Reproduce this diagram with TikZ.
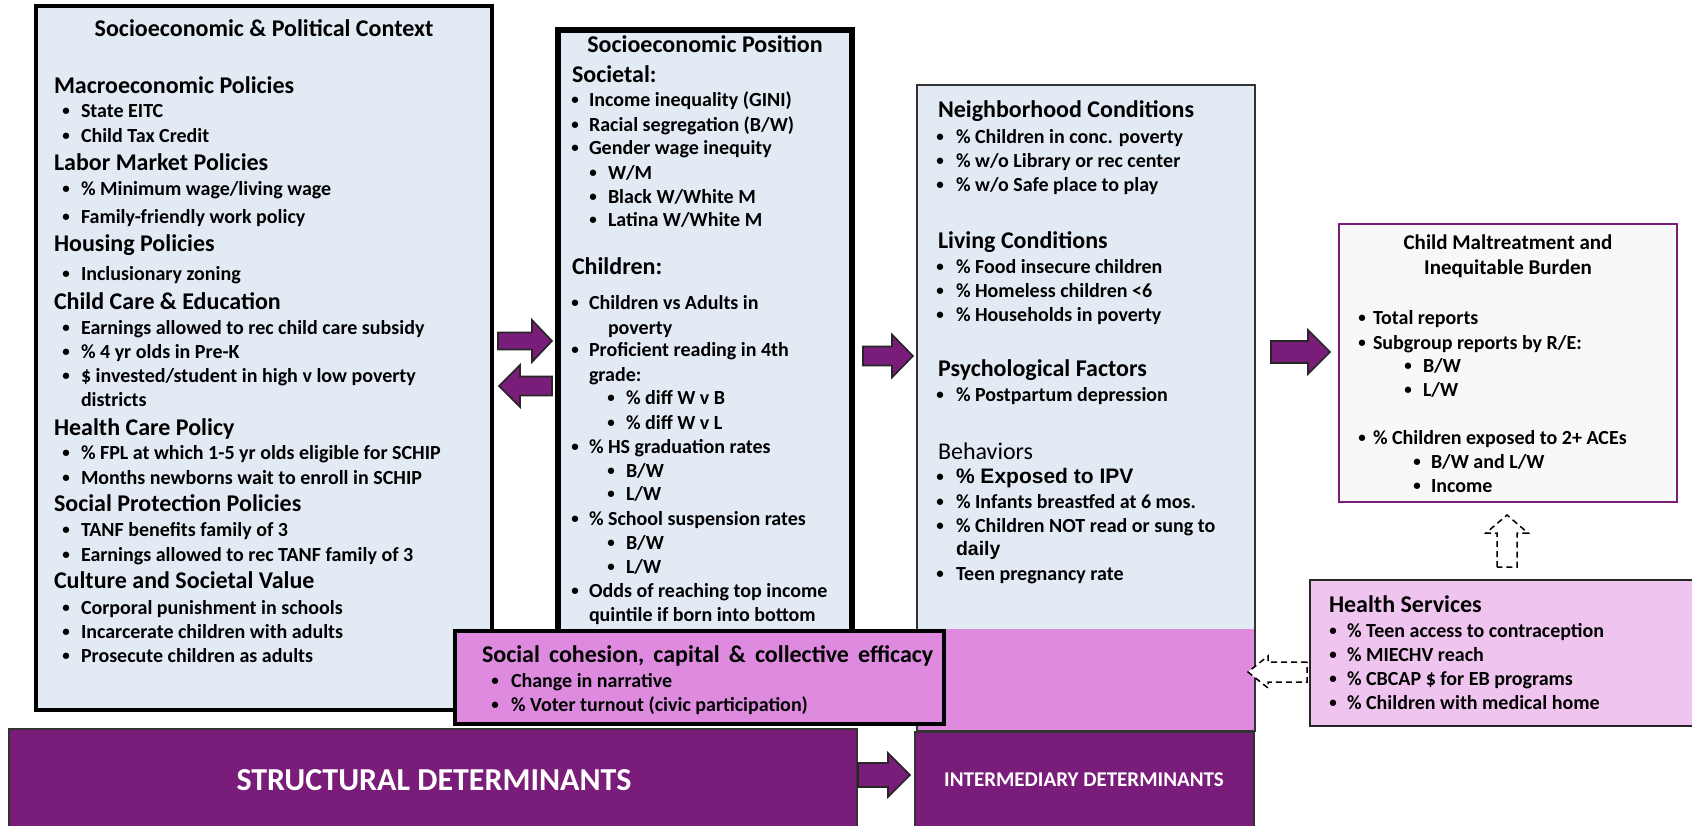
\documentclass[tikz,border=0pt]{standalone}
\usepackage{fontspec}
\setmainfont{Carlito}
\newfontfamily\arialf{Liberation Sans}

\definecolor{lblue}{HTML}{E2EAF4}
\definecolor{dpurple}{HTML}{7A1C7A}
\definecolor{spink}{HTML}{DE8ADF}
\definecolor{hpink}{HTML}{EFC5EF}
\definecolor{offw}{HTML}{F8F8F8}

\newcounter{lc}
\newcommand\smbul{{\fontsize{15}{15}\selectfont\raisebox{1.5pt}{\textbullet}}}
\newcommand\TXT[4]{\stepcounter{lc}\node[#1] (t\arabic{lc}) at (#2,#3) {#4};}
\newcommand\BUL[5]{\stepcounter{lc}\node[#1,anchor=center] (u\arabic{lc}) at (#2,#4) {\smbul};\node[#1] (t\arabic{lc}) at (#3,#4) {#5};}
\newcommand\fatH[6]{\draw[fatarrow] ({#1},{#3-#4}) -- ({#2-(#6)},{#3-#4}) -- ({#2-(#6)},{#3-#5}) -- ({#2},{#3}) -- ({#2-(#6)},{#3+#5}) -- ({#2-(#6)},{#3+#4}) -- ({#1},{#3+#4}) -- cycle;}

\tikzset{
  ti/.style={font=\bfseries\fontsize{24}{28}\selectfont, inner sep=0pt, outer sep=0pt, text height=15pt, text depth=0pt},
  tim/.style={ti, font=\bfseries\fontsize{21}{25}\selectfont, text height=13.5pt},
  hd/.style={font=\bfseries\fontsize{24}{28}\selectfont, anchor=west, inner sep=0pt, outer sep=0pt, text height=15.4pt, text depth=0pt},
  hdr/.style={hd, font=\fontsize{24}{28}\selectfont},
  it/.style={font=\bfseries\fontsize{20}{24}\selectfont, anchor=west, inner sep=0pt, outer sep=0pt, text height=12.8pt, text depth=0pt},
  ita/.style={it, font=\arialf\bfseries\fontsize{19.5}{24}\selectfont},
  box/.style={anchor=north west, inner sep=0pt, outer sep=0pt},
  fatarrow/.style={fill=dpurple, draw=black!85, line width=1.6pt, line join=miter},
  dasharrow/.style={fill=white, draw=black, line width=1.5pt, dash pattern=on 6pt off 4pt},
  bigw/.style={font=\bfseries\fontsize{32}{38}\selectfont, text=white, inner sep=0pt},
  smw/.style={font=\bfseries\fontsize{21}{25}\selectfont, text=white, inner sep=0pt},
}

\begin{document}
\begin{tikzpicture}[x=1pt,y=-1pt]
\useasboundingbox (0,0) rectangle (1692,826);
\fill[white] (0,0) rectangle (1692,826);

% --- Box 1: Socioeconomic & Political Context
\node[box, draw=black, line width=4pt, fill=lblue, minimum width=456pt, minimum height=704pt] (b1) at (36,6) {};
% --- Box 2: Socioeconomic Position
\node[box, draw=black, line width=6pt, fill=lblue, minimum width=294pt, minimum height=620pt] (b2) at (558,30) {};
% --- Box 3: Intermediary conditions
\node[box, draw=black!80, line width=1.5pt, fill=lblue, minimum width=338pt, minimum height=646pt] (b3) at (917,85) {};
\fill[spink] (917.5,629) rectangle (1254.5,731);
\draw[black!80, line width=1.5pt] (b3.north west) rectangle (b3.south east);

% --- Social cohesion box
\node[box, draw=black, line width=4pt, fill=spink, minimum width=489pt, minimum height=93pt] (sc) at (455,631) {};

% --- Bottom bars
\node[box, draw=black!80, line width=2pt, fill=dpurple, minimum width=848pt, minimum height=110pt] (sd) at (9,729) {};
\node[box, draw=black!80, line width=2pt, fill=dpurple, minimum width=339pt, minimum height=110pt] (id) at (915,732) {};
\node[bigw] (sdt) at (434,780) {STRUCTURAL DETERMINANTS};
\node[smw] (idt) at (1084,780) {INTERMEDIARY DETERMINANTS};

% --- Child maltreatment box
\node[box, draw=dpurple, line width=2.5pt, fill=offw, minimum width=338pt, minimum height=278pt] (b4) at (1339,224) {};
% --- Health services box
\node[box, draw=black!85, line width=1.5pt, fill=hpink, minimum width=400pt, minimum height=146pt] (hs) at (1310,580) {};

% --- Fat arrows
\fatH{498}{552}{341}{8.5}{21}{20}
\fatH{552}{499}{386}{9.5}{21}{-21}
\fatH{863}{913}{356}{9.5}{21.5}{21}
\fatH{1271}{1330}{352}{11}{22}{22}
\fatH{858}{910}{775}{12}{22}{22}

% --- Dashed arrows
\draw[dasharrow] (1497,567) -- (1497,533) -- (1486,533) -- (1507,515) -- (1528,533) -- (1517,533) -- (1517,567) -- cycle;
\draw[dasharrow] (1307,662) -- (1268,662) -- (1268,656) -- (1248,672) -- (1268,688) -- (1268,682) -- (1307,682) -- cycle;

% --- Box 1 text
\TXT{ti}{264}{29}{Socioeconomic \& Political Context}
\TXT{hd}{54}{86}{Macroeconomic Policies}
\BUL{it}{66}{81}{111}{State EITC}
\BUL{it}{66}{81}{136}{Child Tax Credit}
\TXT{hd}{54}{163}{Labor Market Policies}
\BUL{it}{66}{81}{189}{\% Minimum wage/living wage}
\BUL{it}{66}{81}{217}{Family-friendly work policy}
\TXT{hd}{54}{244}{Housing Policies}
\BUL{it}{66}{81}{274}{Inclusionary zoning}
\TXT{hd}{54}{302}{Child Care \& Education}
\BUL{it}{66}{81}{328}{Earnings allowed to rec child care subsidy}
\BUL{it}{66}{81}{352}{\% 4 yr olds in Pre-K}
\BUL{it}{66}{81}{376}{\$ invested/student in high v low poverty}
\TXT{it}{81}{400}{districts}
\TXT{hd}{54}{428}{Health Care Policy}
\BUL{it}{66}{81}{453}{\% FPL at which 1-5 yr olds eligible for SCHIP}
\BUL{it}{66}{81}{478}{Months newborns wait to enroll in SCHIP}
\TXT{hd}{54}{504}{Social Protection Policies}
\BUL{it}{66}{81}{530}{TANF benefits family of 3}
\BUL{it}{66}{81}{555}{Earnings allowed to rec TANF family of 3}
\TXT{hd}{54}{581}{Culture and Societal Value}
\BUL{it}{66}{81}{608}{Corporal punishment in schools}
\BUL{it}{66}{81}{632}{Incarcerate children with adults}
\BUL{it}{66}{81}{656}{Prosecute children as adults}

% --- Box 2 text
\TXT{ti}{705}{45}{Socioeconomic Position}
\TXT{hd}{572}{75}{Societal:}
\BUL{it}{575}{589}{100}{Income inequality (GINI)}
\BUL{it}{575}{589}{125}{Racial segregation (B/W)}
\BUL{it}{575}{589}{148}{Gender wage inequity}
\BUL{it}{593}{608}{173}{W/M}
\BUL{it}{593}{608}{197}{Black W/White M}
\BUL{it}{593}{608}{220}{Latina W/White M}
\TXT{hd}{572}{267}{Children:}
\BUL{it}{575}{589}{303}{Children vs Adults in}
\TXT{it}{608}{328}{poverty}
\BUL{it}{575}{589}{350}{Proficient reading in 4th}
\TXT{it}{589}{375}{grade:}
\BUL{it}{611}{626}{398}{\% diff W v B}
\BUL{it}{611}{626}{423}{\% diff W v L}
\BUL{it}{575}{589}{447}{\% HS graduation rates}
\BUL{it}{611}{626}{471}{B/W}
\BUL{it}{611}{626}{494}{L/W}
\BUL{it}{575}{589}{519}{\% School suspension rates}
\BUL{it}{611}{626}{543}{B/W}
\BUL{it}{611}{626}{567}{L/W}
\BUL{it}{575}{589}{591}{Odds of reaching top income}
\TXT{it}{589}{615}{quintile if born into bottom}

% --- Social cohesion text
\TXT{hd}{482}{655}{\spaceskip=0.38em\relax Social cohesion, capital \& collective efficacy}
\BUL{it}{495}{511}{681}{Change in narrative}
\BUL{it}{495}{511}{705}{\% Voter turnout (civic participation)}

% --- Box 3 text
\TXT{hd}{938}{110}{Neighborhood Conditions}
\BUL{it}{940}{956}{137}{\% Children in conc. poverty}
\BUL{it}{940}{956}{161}{\% w/o Library or rec center}
\BUL{it}{940}{956}{185}{\% w/o Safe place to play}
\TXT{hd}{938}{241}{Living Conditions}
\BUL{it}{940}{956}{267}{\% Food insecure children}
\BUL{it}{940}{956}{291}{\% Homeless children <6}
\BUL{it}{940}{956}{315}{\% Households in poverty}
\TXT{hd}{938}{369}{Psychological Factors}
\BUL{it}{940}{956}{395}{\% Postpartum depression}
\TXT{hdr}{938}{452}{Behaviors}
\BUL{it}{940}{956}{477}{\arialf\fontsize{21}{24}\selectfont\% Exposed to IPV}
\BUL{it}{940}{956}{502}{\% Infants breastfed at 6 mos.}
\BUL{it}{940}{956}{526}{\% Children NOT read or sung to}
\TXT{ita}{956}{549}{daily}
\BUL{it}{940}{956}{574}{Teen pregnancy rate}

% --- Box 4 text
\TXT{tim}{1508}{243}{Child Maltreatment and}
\TXT{tim}{1508}{268}{Inequitable Burden}
\BUL{it}{1362}{1373}{318}{Total reports}
\BUL{it}{1362}{1373}{343}{Subgroup reports by R/E:}
\BUL{it}{1408}{1423}{366}{B/W}
\BUL{it}{1408}{1423}{390}{L/W}
\BUL{it}{1362}{1373}{438}{\% Children exposed to 2+ ACEs}
\BUL{it}{1417}{1431}{462}{B/W and L/W}
\BUL{it}{1417}{1431}{486}{Income}

% --- Health services text
\TXT{hd}{1329}{605}{Health Services}
\BUL{it}{1333}{1347}{631}{\% Teen access to contraception}
\BUL{it}{1333}{1347}{655}{\% MIECHV reach}
\BUL{it}{1333}{1347}{679}{\% CBCAP \$ for EB programs}
\BUL{it}{1333}{1347}{703}{\% Children with medical home}
\end{tikzpicture}
\end{document}
